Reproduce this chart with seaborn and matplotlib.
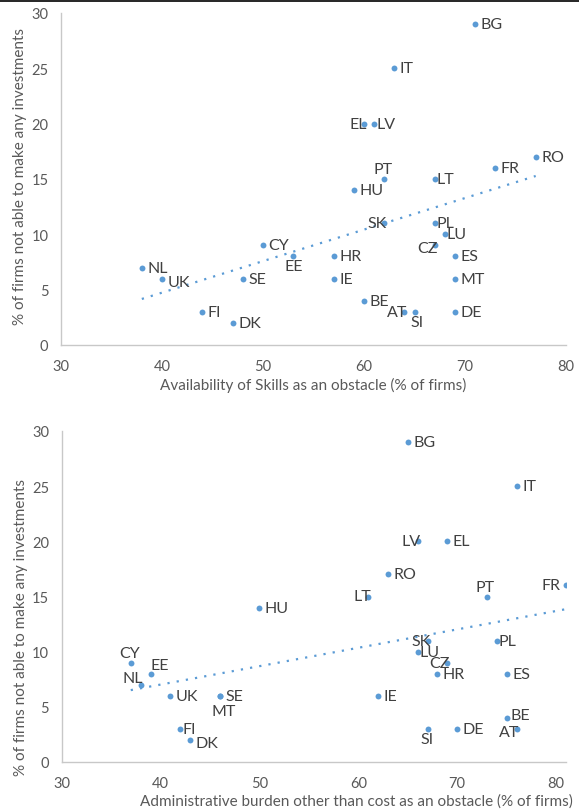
import numpy as np
import pandas as pd
import matplotlib
matplotlib.use("Agg")
import matplotlib.pyplot as plt
import seaborn as sns

# --- data ---
countries_top = ["BG", "IT", "EL", "LV", "RO", "FR", "PT", "LT", "HU", "SK", "PL", "LU", "CZ", "CY",
                 "EE", "HR", "ES", "NL", "UK", "SE", "IE", "MT", "BE", "AT", "SI", "DE", "FI", "DK"]
skills_x = [71, 63, 60, 61, 77, 73, 62, 67, 59, 62, 67, 68, 67, 50,
            53, 57, 69, 38, 40, 48, 57, 69, 60, 64, 65, 69, 44, 47]
skills_y = [29, 25, 20, 20, 17, 16, 15, 15, 14, 11, 11, 10, 9, 9,
            8, 8, 8, 7, 6, 6, 6, 6, 4, 3, 3, 3, 3, 2]

countries_bot = ["BG", "IT", "LV", "EL", "RO", "LT", "PT", "FR", "HU", "SK", "PL", "LU", "CZ", "HR",
                 "ES", "IE", "BE", "AT", "DE", "SI", "CY", "EE", "NL", "UK", "SE", "MT", "FI", "DK"]
admin_x = [65, 76, 66, 69, 63, 61, 73, 81, 50, 67, 74, 66, 69, 68,
           75, 62, 75, 76, 70, 67, 37, 39, 38, 41, 46, 46, 42, 43]
admin_y = [29, 25, 20, 20, 17, 15, 15, 16, 14, 11, 11, 10, 9, 8,
           8, 6, 4, 3, 3, 3, 9, 8, 7, 6, 6, 6, 3, 2]

y_label = "% of firms not able to make any investments"
x_label_top = "Availability of Skills as an obstacle (% of firms)"
x_label_bot = "Administrative burden other than cost as an obstacle (% of firms)"

# label placement: (dx, dy in points, ha, va)
PLACE = {
    "r": (4, 0, "left", "center"),
    "rt": (1.5, 0, "left", "center"),
    "rb": (4, -2.5, "left", "center"),
    "ra": (3, 2, "left", "center"),
    "l": (-4, 0, "right", "center"),
    "lt": (2, 0, "right", "center"),
    "lb": (2, -2, "right", "center"),
    "la": (2, 5, "right", "center"),
    "a": (-1, 7, "center", "center"),
    "ar": (0, 6, "left", "center"),
    "b": (0, -7, "center", "center"),
    "b2": (2, -7, "center", "center"),
    "bb": (3, -11, "center", "center"),
}
place_top = {"EL": "lt", "LV": "rt", "PT": "a", "LT": "rt", "SK": "lt", "PL": "rt", "LU": "rt",
             "CZ": "lb", "EE": "b", "UK": "rb", "AT": "lt", "SI": "b2"}
place_bot = {"LV": "lt", "LT": "lt", "PT": "a", "FR": "l", "SK": "lt", "PL": "rt", "LU": "rt",
             "CZ": "lt", "BE": "ra", "AT": "lb", "SI": "b", "CY": "a", "EE": "ar", "NL": "la",
             "MT": "bb", "FI": "rt", "DK": "rb"}

BLUE = "#5B9BD5"
GREY = "#595959"
DARK = "#404040"

sns.set_style("white")
plt.rcParams["font.family"] = ["Lato", "DejaVu Sans"]

fig = plt.figure(figsize=(5.79, 8.12), dpi=100)
W, H = 579, 812


def make_axes(left, right, top, bottom):
    return fig.add_axes([left / W, (H - bottom) / H, (right - left) / W, (bottom - top) / H])


def draw_panel(ax, names, xs, ys, placement, xlabel, xmax, xlab_x, ylab_y):
    df = pd.DataFrame({"country": names, "x": xs, "y": ys})
    sns.regplot(data=df, x="x", y="y", ax=ax, scatter=False, ci=None, truncate=True,
                line_kws=dict(color=BLUE, lw=1.6, ls=(0, (1, 3.2))))
    sns.scatterplot(data=df, x="x", y="y", ax=ax, color=BLUE, s=18, linewidth=0, zorder=3)
    for _, row in df.iterrows():
        dx, dy, ha, va = PLACE[placement.get(row["country"], "r")]
        ax.annotate(row["country"], (row["x"], row["y"]), xytext=(dx, dy),
                    textcoords="offset points", ha=ha, va=va, fontsize=11.5, color=DARK)
    ax.set_xlim(30, xmax)
    ax.set_ylim(0, 30)
    ax.set_xticks([30, 40, 50, 60, 70, 80])
    ax.set_yticks([0, 5, 10, 15, 20, 25, 30])
    ax.tick_params(length=0, labelsize=10.5, labelcolor=GREY)
    ax.tick_params(axis="x", pad=10)
    ax.tick_params(axis="y", pad=9)
    for s in ["top", "right"]:
        ax.spines[s].set_visible(False)
    for s in ["left", "bottom"]:
        ax.spines[s].set_color("#C8C8C8")
        ax.spines[s].set_linewidth(1.0)
    ax.set_xlabel(xlabel, fontsize=11, color=GREY)
    ax.set_ylabel(y_label, fontsize=11, color=GREY)
    ax.xaxis.set_label_coords(xlab_x, -0.095)
    ax.yaxis.set_label_coords(-0.067, ylab_y)


ax1 = make_axes(61, 566, 14, 346)
draw_panel(ax1, countries_top, skills_x, skills_y, place_top, x_label_top, 80, 0.5, 0.51)

ax2 = make_axes(61.5, 566, 432, 763)
draw_panel(ax2, countries_bot, admin_x, admin_y, place_bot, x_label_bot, 81, 0.585, 0.41)

# thin border line along the top edge of the image
fig.add_artist(plt.Line2D([0, 1], [1 - 1.5 / H, 1 - 1.5 / H], color="black", lw=1.2))

fig.savefig("out.png", dpi=100)
